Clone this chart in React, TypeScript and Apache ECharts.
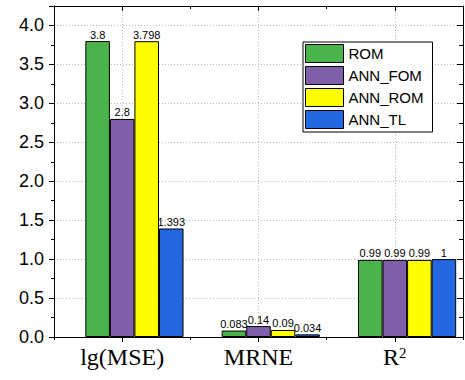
import React, { useEffect, useRef } from "react";
import * as echarts from "echarts";

const categories = ["lg(MSE)", "MRNE", "R^2"];
const seriesNames = ["ROM", "ANN_FOM", "ANN_ROM", "ANN_TL"];
const romValues = [3.8, 0.083, 0.99];
const annFomValues = [2.8, 0.14, 0.99];
const annRomValues = [3.798, 0.09, 0.99];
const annTlValues = [1.393, 0.034, 1];
const seriesColors = ["#4BB34B", "#7F5FA9", "#FFFF00", "#2468E1"];
const padValues = [null, null, null];

const SANS = "'Liberation Sans', Arial, sans-serif";
const SERIF = "'Liberation Serif', 'Times New Roman', serif";

export default function App() {
  const ref = useRef<HTMLDivElement>(null);
  useEffect(() => {
    if (!ref.current) return;
    const chart = echarts.init(ref.current, null, { renderer: "svg" });
    const values = [romValues, annFomValues, annRomValues, annTlValues];
    const dotted = { type: [1, 2] as any, color: "#b8b8b8", width: 1 };
    const black = { color: "#000", width: 1 };
    const barSeries = seriesNames.map((name, i) => ({
      type: "bar",
      name,
      data: values[i],
      xAxisIndex: 0,
      yAxisIndex: 0,
      barGap: "0%",
      barCategoryGap: "10%",
      itemStyle: { color: seriesColors[i], borderColor: "#000", borderWidth: 1 },
      label: {
        show: true,
        position: "top",
        distance: 1,
        fontSize: 11,
        fontFamily: SANS,
        color: "#000",
        formatter: (p: any) => String(p.value),
      },
    }));
    chart.setOption({
      animation: false,
      grid: { left: 54, right: 2, top: 6, bottom: 43, containLabel: false },
      legend: {
        data: seriesNames,
        orient: "vertical",
        left: 303,
        top: 42,
        itemWidth: 38,
        itemHeight: 18,
        itemGap: 3,
        padding: [2, 9, 3, 2],
        borderColor: "#000",
        borderWidth: 1,
        backgroundColor: "#fff",
        icon: "rect",
        itemStyle: { borderColor: "#000", borderWidth: 1 },
        textStyle: { fontSize: 15, fontFamily: SANS, color: "#000" },
      },
      xAxis: [
        {
          type: "category",
          data: categories,
          position: "bottom",
          axisLine: { show: true, onZero: false, lineStyle: black },
          axisTick: { show: true, alignWithLabel: true, length: 5, lineStyle: black },
          axisLabel: {
            margin: 8,
            formatter: (v: string) => (v === "R^2" ? "{b|R}{s|2}" : "{b|" + v + "}"),
            rich: {
              b: { fontSize: 24, fontFamily: SERIF, color: "#000" },
              s: { fontSize: 15, fontFamily: SERIF, color: "#000", verticalAlign: "top", padding: [0, 0, 0, 0] },
            },
          },
          splitLine: { show: true, alignWithLabel: true, lineStyle: dotted },
        },
        {
          type: "category",
          data: categories,
          position: "bottom",
          axisLine: { show: false, onZero: false },
          axisTick: { show: true, length: 3, lineStyle: black },
          axisLabel: { show: false },
          splitLine: { show: false },
        },
        {
          type: "category",
          data: categories,
          position: "top",
          axisLine: { show: true, onZero: false, lineStyle: black },
          axisTick: { show: true, inside: true, alignWithLabel: true, length: 5, lineStyle: black },
          axisLabel: { show: false },
          splitLine: { show: false },
        },
        {
          type: "category",
          data: categories,
          position: "top",
          axisLine: { show: false, onZero: false },
          axisTick: { show: true, inside: true, length: 3, lineStyle: black },
          axisLabel: { show: false },
          splitLine: { show: false },
        },
      ],
      yAxis: [
        {
          type: "value",
          min: 0,
          max: 4.25,
          interval: 0.5,
          position: "left",
          axisLine: { show: true, onZero: false, lineStyle: black },
          axisTick: { show: true, length: 5, lineStyle: black },
          minorTick: { show: true, splitNumber: 2, length: 3, lineStyle: black },
          axisLabel: {
            margin: 10,
            fontSize: 18,
            fontFamily: SANS,
            color: "#000",
            formatter: (v: number) =>
              Math.abs(v * 2 - Math.round(v * 2)) > 1e-6 ? "" : v.toFixed(1),
          },
          splitLine: { show: true, lineStyle: dotted },
        },
        {
          type: "value",
          min: 0,
          max: 4.25,
          interval: 0.5,
          position: "right",
          axisLine: { show: true, onZero: false, lineStyle: black },
          axisTick: { show: true, inside: true, length: 6, lineStyle: black },
          minorTick: { show: true, splitNumber: 2, length: 4, lineStyle: black },
          axisLabel: { show: false },
          splitLine: { show: false },
        },
      ],
      series: [
        {
          type: "bar",
          name: "_pad",
          data: padValues,
          xAxisIndex: 0,
          yAxisIndex: 0,
          barGap: "0%",
          barCategoryGap: "10%",
          label: { show: false },
        },
        ...barSeries,
      ],
    });
    return () => chart.dispose();
  }, []);
  return (
    <div
      ref={ref}
      style={{ position: "fixed", left: 0, top: 0, width: 465, height: 380, background: "#fff" }}
    />
  );
}
